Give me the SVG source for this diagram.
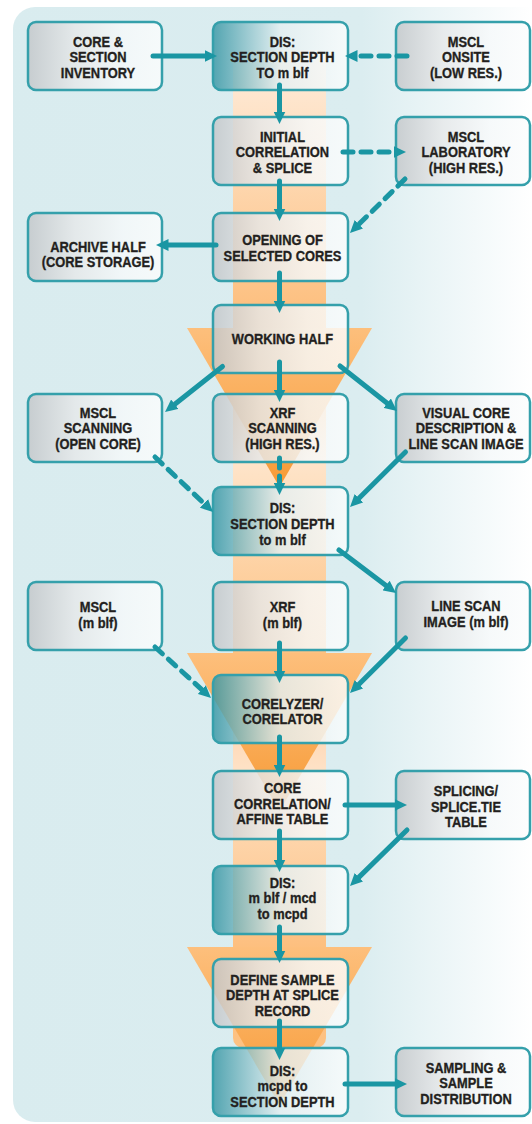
<svg xmlns="http://www.w3.org/2000/svg" width="532" height="1124" viewBox="0 0 532 1124">
  <defs>
    <linearGradient id="bgGrad" gradientUnits="userSpaceOnUse" x1="0" y1="0" x2="532" y2="0">
      <stop offset="0" stop-color="#d9ecef"/>
      <stop offset="0.68" stop-color="#dbedf0"/>
      <stop offset="1" stop-color="#ffffff"/>
    </linearGradient>
    <linearGradient id="bandGrad" gradientUnits="userSpaceOnUse" x1="0" y1="50" x2="0" y2="1048">
      <stop offset="0" stop-color="#feeedf"/>
      <stop offset="0.28" stop-color="#fdbc78"/>
      <stop offset="0.36" stop-color="#fdc88f"/>
      <stop offset="0.414" stop-color="#fee4c9"/>
      <stop offset="0.604" stop-color="#fdc283"/>
      <stop offset="0.70" stop-color="#fedcbd"/>
      <stop offset="0.722" stop-color="#fee2c6"/>
      <stop offset="0.90" stop-color="#fdbf7e"/>
      <stop offset="1" stop-color="#fdc283"/>
    </linearGradient>
    <linearGradient id="funnelGrad" x1="0" y1="0" x2="0" y2="1">
      <stop offset="0" stop-color="#fdbf7c"/>
      <stop offset="1" stop-color="#f79a35"/>
    </linearGradient>
    <linearGradient id="grayFill" x1="0" y1="0" x2="1" y2="0">
      <stop offset="0" stop-color="#c3c6c9"/>
      <stop offset="0.35" stop-color="#e6e8e9"/>
      <stop offset="0.7" stop-color="#f6f9fa"/>
      <stop offset="1" stop-color="#fcfdfd"/>
    </linearGradient>
    <linearGradient id="tealFill" x1="0" y1="0" x2="1" y2="0">
      <stop offset="0" stop-color="#3595a3"/>
      <stop offset="0.5" stop-color="#e4eff1"/>
      <stop offset="1" stop-color="#fbfdfd"/>
    </linearGradient>
    <marker id="arrow" markerUnits="userSpaceOnUse" markerWidth="13" markerHeight="12" refX="4.5" refY="6" orient="auto">
      <path d="M0,0 L12.5,6 L0,12 Z" fill="#1a96a3"/>
    </marker>
  </defs>
  <style>
    .box { stroke: #35a0ab; stroke-width: 2.5; fill-opacity: 0.82; }
    .gray { fill: url(#grayFill); }
    .teal { fill: url(#tealFill); }
    .label text { font-family: "Liberation Sans", Arial, sans-serif; font-weight: bold; font-size: 15.5px; fill: #231f20; stroke: #231f20; stroke-width: 0.35px; text-anchor: middle; }
    .link { fill: none; stroke: #1a96a3; stroke-width: 5; stroke-linecap: round; marker-end: url(#arrow); }
    .dashed { stroke-dasharray: 10 8; }
  </style>

  <!-- panel background -->
  <rect x="13" y="7" width="560" height="1115" rx="22" fill="url(#bgGrad)"/>

  <!-- central depth band and funnels -->
  <g id="band">
    <rect x="233" y="50" width="93" height="998" rx="10" fill="url(#bandGrad)"/>
    <polygon points="187,328 372,328 279.5,487" fill="url(#funnelGrad)"/>
    <polygon points="187,653 372,653 279.5,811" fill="url(#funnelGrad)"/>
    <polygon points="187,947 372,947 279.5,1105" fill="url(#funnelGrad)"/>
  </g>

  <!-- row 1 -->
  <g id="core-inventory">
    <rect class="box gray" x="28" y="22" width="134" height="68" rx="8"/>
    <g class="label" transform="matrix(0.83 0 0 1 16.66 0)">
      <text x="98" y="47">CORE &amp;</text>
      <text x="98" y="62.5">SECTION</text>
      <text x="98" y="78">INVENTORY</text>
    </g>
  </g>
  <g id="dis-section-depth">
    <rect class="box teal" x="213" y="22" width="135" height="68" rx="8"/>
    <g class="label" transform="matrix(0.83 0 0 1 48.03 0)">
      <text x="282.5" y="47">DIS:</text>
      <text x="282.5" y="62.5">SECTION DEPTH</text>
      <text x="282.5" y="78">TO m blf</text>
    </g>
  </g>
  <g id="mscl-onsite">
    <rect class="box gray" x="396" y="22" width="134" height="68" rx="8"/>
    <g class="label" transform="matrix(0.83 0 0 1 79.22 0)">
      <text x="466" y="47">MSCL</text>
      <text x="466" y="62.5">ONSITE</text>
      <text x="466" y="78">(LOW RES.)</text>
    </g>
  </g>

  <!-- row 2 -->
  <g id="initial-correlation">
    <rect class="box gray" x="213" y="117" width="135" height="68" rx="8"/>
    <g class="label" transform="matrix(0.83 0 0 1 48.03 0)">
      <text x="282.5" y="142">INITIAL</text>
      <text x="282.5" y="157.5">CORRELATION</text>
      <text x="282.5" y="173">&amp; SPLICE</text>
    </g>
  </g>
  <g id="mscl-laboratory">
    <rect class="box gray" x="396" y="117" width="134" height="68" rx="8"/>
    <g class="label" transform="matrix(0.83 0 0 1 79.22 0)">
      <text x="466" y="142">MSCL</text>
      <text x="466" y="157.5">LABORATORY</text>
      <text x="466" y="173">(HIGH RES.)</text>
    </g>
  </g>

  <!-- row 3 -->
  <g id="archive-half">
    <rect class="box gray" x="28" y="213" width="134" height="68" rx="8"/>
    <g class="label" transform="matrix(0.83 0 0 1 16.66 0)">
      <text x="98" y="252">ARCHIVE HALF</text>
      <text x="98" y="267.5">(CORE STORAGE)</text>
    </g>
  </g>
  <g id="opening-cores">
    <rect class="box gray" x="213" y="213" width="135" height="68" rx="8"/>
    <g class="label" transform="matrix(0.83 0 0 1 48.03 0)">
      <text x="282.5" y="245.5">OPENING OF</text>
      <text x="282.5" y="261">SELECTED CORES</text>
    </g>
  </g>

  <!-- row 4 -->
  <g id="working-half">
    <rect class="box gray" x="213" y="305" width="135" height="68" rx="8"/>
    <g class="label" transform="matrix(0.83 0 0 1 48.03 0)">
      <text x="282.5" y="344">WORKING HALF</text>
    </g>
  </g>

  <!-- row 5 -->
  <g id="mscl-scanning">
    <rect class="box gray" x="28" y="394" width="134" height="68" rx="8"/>
    <g class="label" transform="matrix(0.83 0 0 1 16.66 0)">
      <text x="98" y="418">MSCL</text>
      <text x="98" y="433.5">SCANNING</text>
      <text x="98" y="449">(OPEN CORE)</text>
    </g>
  </g>
  <g id="xrf-scanning">
    <rect class="box gray" x="213" y="394" width="135" height="68" rx="8"/>
    <g class="label" transform="matrix(0.83 0 0 1 48.03 0)">
      <text x="282.5" y="418">XRF</text>
      <text x="282.5" y="433.5">SCANNING</text>
      <text x="282.5" y="449">(HIGH RES.)</text>
    </g>
  </g>
  <g id="visual-core">
    <rect class="box gray" x="396" y="394" width="134" height="68" rx="8"/>
    <g class="label" transform="matrix(0.83 0 0 1 79.22 0)">
      <text x="466" y="418">VISUAL CORE</text>
      <text x="466" y="433.5">DESCRIPTION &amp;</text>
      <text x="466" y="449">LINE SCAN IMAGE</text>
    </g>
  </g>

  <!-- row 6 -->
  <g id="dis-to-mblf">
    <rect class="box teal" x="213" y="487" width="135" height="68" rx="8"/>
    <g class="label" transform="matrix(0.83 0 0 1 48.03 0)">
      <text x="282.5" y="513.5">DIS:</text>
      <text x="282.5" y="529.5">SECTION DEPTH</text>
      <text x="282.5" y="545.5">to m blf</text>
    </g>
  </g>

  <!-- row 7 -->
  <g id="mscl-mblf">
    <rect class="box gray" x="28" y="582" width="134" height="68" rx="8"/>
    <g class="label" transform="matrix(0.83 0 0 1 16.66 0)">
      <text x="98" y="612.5">MSCL</text>
      <text x="98" y="628">(m blf)</text>
    </g>
  </g>
  <g id="xrf-mblf">
    <rect class="box gray" x="213" y="582" width="135" height="68" rx="8"/>
    <g class="label" transform="matrix(0.83 0 0 1 48.03 0)">
      <text x="282.5" y="612.5">XRF</text>
      <text x="282.5" y="628">(m blf)</text>
    </g>
  </g>
  <g id="linescan-mblf">
    <rect class="box gray" x="396" y="582" width="134" height="68" rx="8"/>
    <g class="label" transform="matrix(0.83 0 0 1 79.22 0)">
      <text x="466" y="611.5">LINE SCAN</text>
      <text x="466" y="627">IMAGE (m blf)</text>
    </g>
  </g>

  <!-- row 8 -->
  <g id="corelyzer">
    <rect class="box teal" x="213" y="675" width="135" height="68" rx="8"/>
    <g class="label" transform="matrix(0.83 0 0 1 48.03 0)">
      <text x="282.5" y="709">CORELYZER/</text>
      <text x="282.5" y="724.5">CORELATOR</text>
    </g>
  </g>

  <!-- row 9 -->
  <g id="core-correlation">
    <rect class="box gray" x="213" y="771" width="135" height="68" rx="8"/>
    <g class="label" transform="matrix(0.83 0 0 1 48.03 0)">
      <text x="282.5" y="793.5">CORE</text>
      <text x="282.5" y="809">CORRELATION/</text>
      <text x="282.5" y="824.5">AFFINE TABLE</text>
    </g>
  </g>
  <g id="splicing">
    <rect class="box gray" x="396" y="771" width="134" height="68" rx="8"/>
    <g class="label" transform="matrix(0.83 0 0 1 79.22 0)">
      <text x="466" y="796.5">SPLICING/</text>
      <text x="466" y="812">SPLICE.TIE</text>
      <text x="466" y="827.5">TABLE</text>
    </g>
  </g>

  <!-- row 10 -->
  <g id="dis-to-mcpd">
    <rect class="box teal" x="213" y="866" width="135" height="68" rx="8"/>
    <g class="label" transform="matrix(0.83 0 0 1 48.03 0)">
      <text x="282.5" y="888">DIS:</text>
      <text x="282.5" y="903.5">m blf / mcd</text>
      <text x="282.5" y="919">to mcpd</text>
    </g>
  </g>

  <!-- row 11 -->
  <g id="define-sample-depth">
    <rect class="box gray" x="213" y="959" width="135" height="68" rx="8"/>
    <g class="label" transform="matrix(0.83 0 0 1 48.03 0)">
      <text x="282.5" y="985">DEFINE SAMPLE</text>
      <text x="282.5" y="1000.5">DEPTH AT SPLICE</text>
      <text x="282.5" y="1016">RECORD</text>
    </g>
  </g>

  <!-- row 12 -->
  <g id="dis-to-section">
    <rect class="box teal" x="213" y="1048" width="135" height="68" rx="8"/>
    <g class="label" transform="matrix(0.83 0 0 1 48.03 0)">
      <text x="282.5" y="1076">DIS:</text>
      <text x="282.5" y="1091.5">mcpd to</text>
      <text x="282.5" y="1107">SECTION DEPTH</text>
    </g>
  </g>
  <g id="sampling">
    <rect class="box gray" x="396" y="1048" width="134" height="68" rx="8"/>
    <g class="label" transform="matrix(0.83 0 0 1 79.22 0)">
      <text x="466" y="1073">SAMPLING &amp;</text>
      <text x="466" y="1088.5">SAMPLE</text>
      <text x="466" y="1104">DISTRIBUTION</text>
    </g>
  </g>

  <!-- connectors -->
  <g id="connectors">
    <path class="link" d="M153,56 L209,56"/>
    <path class="link dashed" d="M407,56 L353,56"/>
    <path class="link" d="M279.5,85 L279.5,116"/>
    <path class="link dashed" d="M343,152 L398,152"/>
    <path class="link dashed" d="M405,179 L355.7,227.4"/>
    <path class="link" d="M279.5,181 L279.5,213"/>
    <path class="link" d="M216,245 L164,245"/>
    <path class="link" d="M279.5,273 L279.5,305"/>
    <path class="link" d="M222.5,366.5 L171.3,407"/>
    <path class="link" d="M279.5,362 L279.5,394"/>
    <path class="link" d="M340,366 L390.7,406"/>
    <path class="link dashed" d="M155,457 L207.2,506.5"/>
    <path class="link dashed" d="M279.5,458 L279.5,487"/>
    <path class="link" d="M405.5,452 L355.7,501.4"/>
    <path class="link" d="M339,550 L389.6,588.2"/>
    <path class="link dashed" d="M155,647 L205.1,692.6"/>
    <path class="link" d="M279.5,643 L279.5,675"/>
    <path class="link" d="M405.5,638 L355.7,687.4"/>
    <path class="link" d="M279.5,737 L279.5,769"/>
    <path class="link" d="M345,805 L399,805"/>
    <path class="link" d="M279.5,831 L279.5,864"/>
    <path class="link" d="M407,830 L355.7,880.4"/>
    <path class="link" d="M279.5,927 L279.5,955"/>
    <path class="link" d="M279.5,1021 L279.5,1052"/>
    <path class="link" d="M345,1084 L399,1084"/>
  </g>
</svg>
